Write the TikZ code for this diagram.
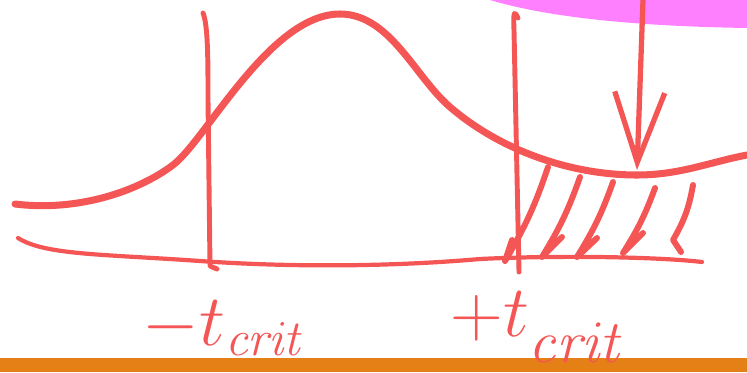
\documentclass[tikz,border=0pt]{standalone}
\usetikzlibrary{arrows.meta}
\begin{document}
\begin{tikzpicture}[x=0.1mm, y=-0.1mm,
        pen/.style={draw=myred, line cap=round, line join=round},
        hatchline/.style={pen, line width=1.7pt},
        lbl/.style={text=myred, font=\fontsize{22}{24}\selectfont, inner sep=0pt}]
        \definecolor{myred}{RGB}{244,86,86}
        \definecolor{mypink}{RGB}{255,128,255}
        \definecolor{myorange}{RGB}{228,128,22}
        \useasboundingbox (0,0) rectangle (747,372);
        \fill[mypink] (490,0) .. controls (540,15) and (620,26) .. (747,28) -- (747,0) -- cycle;
        \fill[myorange] (0,358) rectangle (747,372);
        \draw[pen, line width=2pt] (15,204) .. controls (80,212) and (140,190) .. (173,165)
            .. controls (206,140) and (270,14) .. (340,14)
            .. controls (390,14) and (415,77) .. (450,107)
            .. controls (500,150) and (570,175) .. (637,175)
            .. controls (680,175) and (710,162) .. (747,155);
        \draw[pen, line width=1.2pt] (18,238) .. controls (45,255) and (100,254) .. (200,261)
            .. controls (300,268) and (400,266) .. (480,259)
            .. controls (560,255) and (660,257) .. (702,262);
        \draw[pen, line width=1.4pt] (203,13) .. controls (208,25) and (208,60) .. (208,100)
            -- (210,266) -- (217,269);
        \draw[pen, line width=1.4pt] (518,18) .. controls (515,12) and (513,8) .. (514,30)
            -- (519,272);
        \draw[hatchline] (548,167) to[bend left=6] (505,261) -- (512,240);
        \draw[hatchline] (580,177) to[bend left=6] (542,257) -- (562,237);
        \draw[hatchline] (613,182) to[bend left=6] (577,257) -- (597,238);
        \draw[hatchline] (655,188) to[bend left=6] (623,253) -- (643,233);
        \draw[hatchline] (693,185) to[bend left=10] (673,240) -- (681,252);
        \coordinate (blob) at (643,0);
        \coordinate (tip) at (637,170);
        \draw[pen, line width=1.5pt, -{Straight Barb[length=7mm, width=5mm]}] (blob) -- (tip);
        \node[lbl, anchor=base west] (tneg) at (142,345) {$-t_{\mathit{crit}}$};
        \node[lbl, anchor=base west] (tpos) at (450,336) {$+t$\raisebox{-2.6mm}{\fontsize{19}{19}\selectfont$\mathit{crit}$}};
    \end{tikzpicture}
\end{document}
